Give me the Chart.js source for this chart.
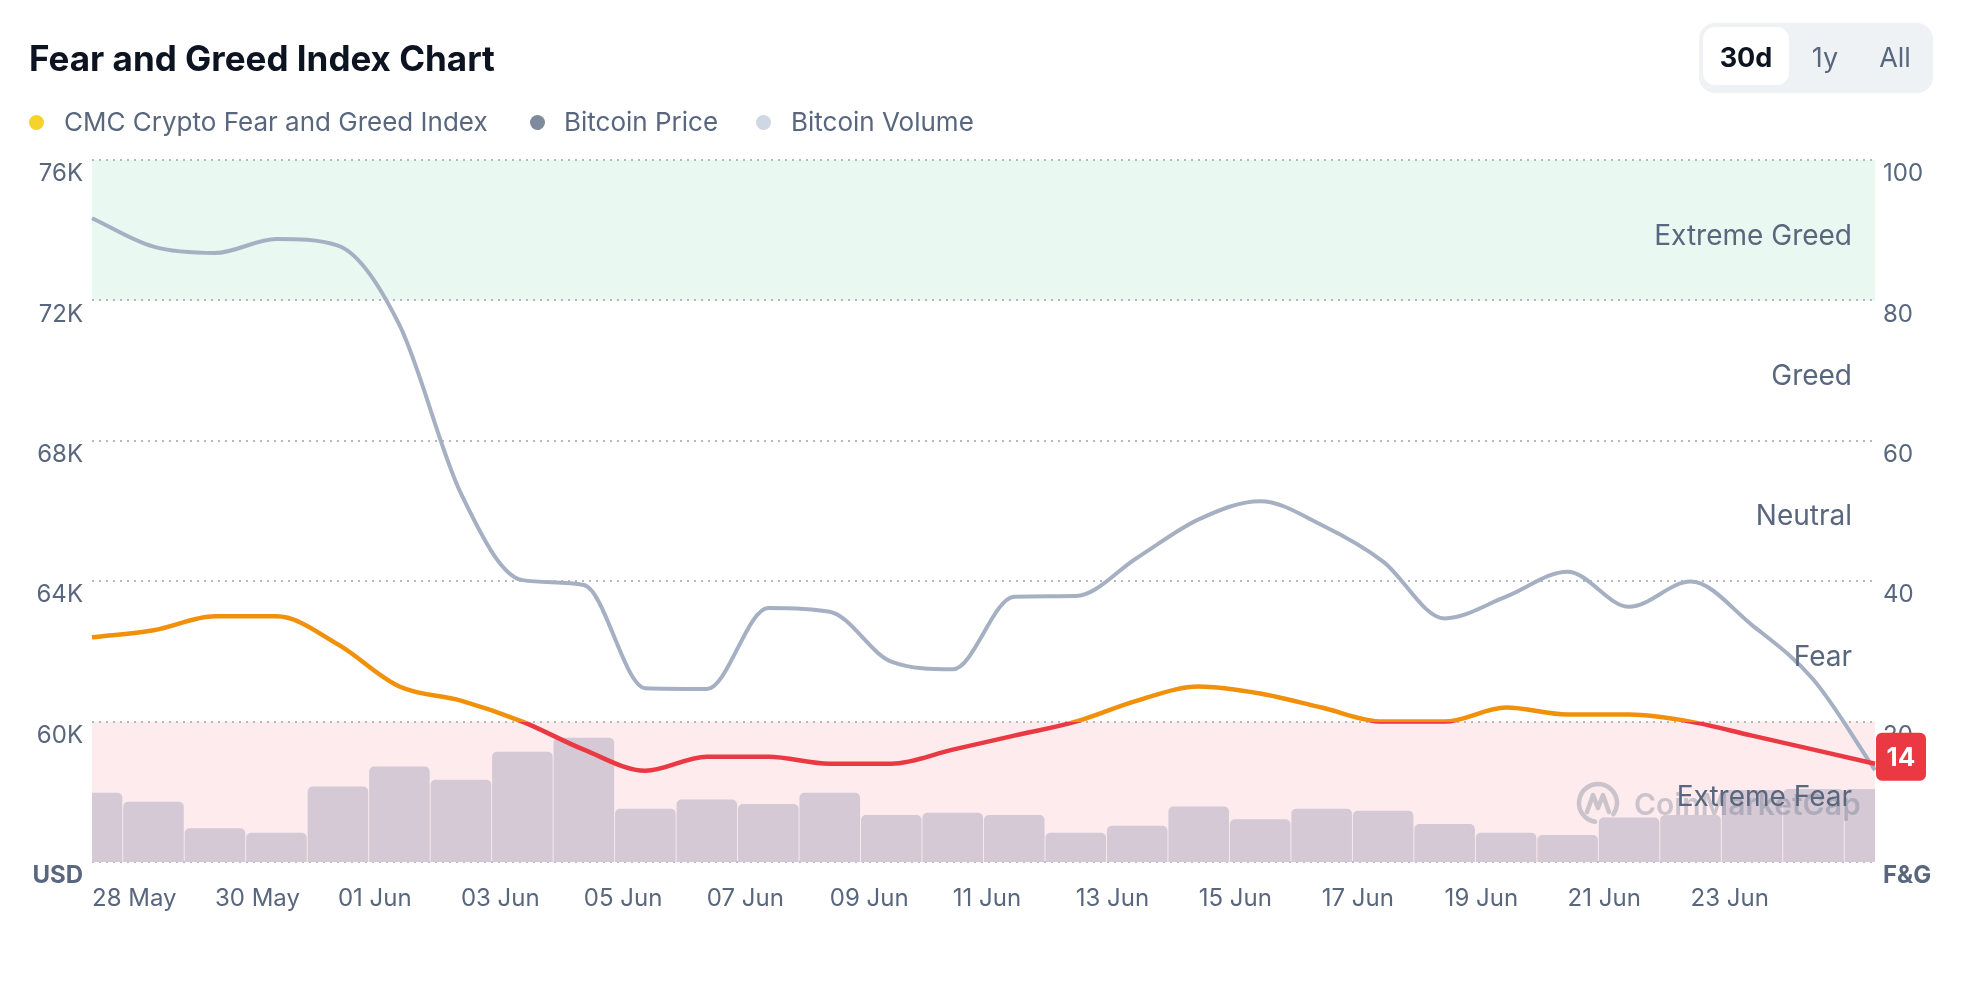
<!DOCTYPE html>
<html>
<head>
    <title>Fear and Greed Index Chart</title>
    <script src="https://cdn.jsdelivr.net/npm/chart.js"></script>
    <style>
        body { margin: 0; background: #fff; font-family: Inter, sans-serif; }
        #wrap { position: relative; width: 1972px; height: 1000px; overflow: hidden; }
        #fg-chart { position: absolute; left: 0; top: 0; }
        #title { position: absolute; left: 29px; top: 37px; font-size: 35px; font-weight: 700; color: #0D1421; line-height: 42px; }
        .leg { position: absolute; top: 106px; font-size: 26px; color: #58667E; line-height: 32px; white-space: nowrap; }
        .leg i { position: absolute; width: 15px; height: 15px; border-radius: 50%; top: 9px; }
        #tabs { position: absolute; left: 1699px; top: 23px; width: 234px; height: 70px; background: #EFF2F5; border-radius: 16px; }
        #tabs span { position: absolute; top: 6px; height: 58px; line-height: 58px; text-align: center; font-size: 27px; color: #58667E; }
        #tabs span.on { top: 4px; line-height: 62px; background: #fff; color: #0D1421; font-weight: 700; border-radius: 12px; }
    </style>
</head>
<body>
<div id="wrap">
    <canvas id="fg-chart" width="1972" height="1000"></canvas>
    <div id="title">Fear and Greed Index Chart</div>
    <div class="leg" style="left:64px"><i style="background:#F6D32B;left:-35px"></i>CMC Crypto Fear and Greed Index</div>
    <div class="leg" style="left:564px"><i style="background:#808A9D;left:-34px"></i>Bitcoin Price</div>
    <div class="leg" style="left:791px"><i style="background:#CFD6E4;left:-35px"></i>Bitcoin Volume</div>
    <div id="tabs">
        <span class="on" style="left:4px;width:86px">30d</span>
        <span style="left:105px;width:42px">1y</span>
        <span style="left:170px;width:52px">All</span>
    </div>
</div>

<script>
    // values
    const dates = ['28 May', '29 May', '30 May', '31 May', '01 Jun', '02 Jun', '03 Jun', '04 Jun', '05 Jun', '06 Jun',
        '07 Jun', '08 Jun', '09 Jun', '10 Jun', '11 Jun', '12 Jun', '13 Jun', '14 Jun', '15 Jun', '16 Jun',
        '17 Jun', '18 Jun', '19 Jun', '20 Jun', '21 Jun', '22 Jun', '23 Jun', '24 Jun', '25 Jun', '26 Jun'];

    const fearGreed = [32, 33, 35, 35, 31, 25, 23, 20, 16, 13,
        15, 15, 14, 14, 16, 18, 20, 23, 25, 24,
        22, 20, 20, 22, 21, 21, 20, 18, 16, 14];

    const btcPrice = [74340, 73530, 73350, 73750, 73560, 71300, 66500, 64030, 63890, 60950,
        60930, 63240, 63130, 61710, 61490, 63560, 63580, 64670, 65760, 66280,
        65600, 64560, 62940, 63560, 64270, 63270, 63990, 62750, 61190, 58620];

    // billions USD
    const btcVolume = [19.7, 17.2, 9.6, 8.3, 21.5, 27.2, 23.4, 31.4, 35.4, 15.2,
        17.8, 16.5, 19.7, 13.4, 14.0, 13.4, 8.3, 10.3, 15.8, 12.2,
        15.2, 14.6, 10.8, 8.3, 7.7, 12.7, 13.4, 20.5, 20.8, 20.8];

    const zoneNames = ['Extreme Fear', 'Fear', 'Neutral', 'Greed', 'Extreme Greed'];
    const zoneEdges = [0, 20, 40, 60, 80, 100];

    const slate = '#58667E';
    const orange = '#F0900B';
    const red = '#EA3943';

    // orange above 20, red below, split exactly at the 20 line
    function fgColor(context) {
        const chart = context.chart;
        const area = chart.chartArea;
        if (!area) return orange;
        const y20 = chart.scales.fg.getPixelForValue(20);
        const f = Math.min(Math.max((y20 - area.top) / (area.bottom - area.top), 0), 1);
        const g = chart.ctx.createLinearGradient(0, area.top, 0, area.bottom);
        g.addColorStop(0, orange);
        g.addColorStop(f, orange);
        g.addColorStop(f, red);
        g.addColorStop(1, red);
        return g;
    }

    const zones = {
        id: 'zones',
        beforeDraw(chart) {
            const { ctx, chartArea: a, scales } = chart;
            const fg = scales.fg;
            ctx.save();
            ctx.fillStyle = '#E9F8F1';
            ctx.fillRect(a.left, fg.getPixelForValue(100), a.right - a.left, fg.getPixelForValue(80) - fg.getPixelForValue(100));
            ctx.fillStyle = '#FDEBED';
            ctx.fillRect(a.left, fg.getPixelForValue(20), a.right - a.left, fg.getPixelForValue(0) - fg.getPixelForValue(20));
            ctx.restore();
        },
        afterDatasetsDraw(chart) {
            const { ctx, chartArea: a, scales } = chart;
            const fg = scales.fg;
            ctx.save();
            // watermark
            const wx = 1598, wy = 803;
            ctx.strokeStyle = 'rgba(88,102,126,0.3)';
            ctx.lineWidth = 4.5;
            ctx.lineCap = 'round';
            ctx.lineJoin = 'round';
            ctx.beginPath();
            ctx.arc(wx, wy, 19, Math.PI * 0.55, Math.PI * 2.2);
            ctx.stroke();
            ctx.beginPath();
            ctx.moveTo(wx - 11, wy + 9);
            ctx.lineTo(wx - 5, wy - 8);
            ctx.lineTo(wx, wy + 5);
            ctx.lineTo(wx + 5, wy - 8);
            ctx.lineTo(wx + 11, wy + 9);
            ctx.stroke();
            ctx.fillStyle = 'rgba(88,102,126,0.3)';
            ctx.font = '600 30px Inter';
            ctx.textAlign = 'left';
            ctx.textBaseline = 'middle';
            ctx.fillText('CoinMarketCap', 1634, 806);

            ctx.fillStyle = slate;
            ctx.font = '28px Inter';
            ctx.textAlign = 'right';
            zoneNames.forEach((name, i) => {
                const mid = (zoneEdges[i] + zoneEdges[i + 1]) / 2;
                ctx.fillText(name, a.right - 23, fg.getPixelForValue(mid) + 6);
            });
            ctx.restore();
        },
        afterDraw(chart) {
            const { ctx } = chart;
            const meta = chart.getDatasetMeta(0);
            const last = meta.data[meta.data.length - 1];
            const val = fearGreed[fearGreed.length - 1];
            const w = 50, h = 48;
            const x = last.x + 1, y = last.y - 7 - h / 2;
            ctx.save();
            ctx.fillStyle = red;
            ctx.beginPath();
            ctx.roundRect(x, y, w, h, 6);
            ctx.fill();
            ctx.fillStyle = '#fff';
            ctx.font = '700 26px Inter';
            ctx.textAlign = 'center';
            ctx.textBaseline = 'middle';
            ctx.fillText(String(val), x + w / 2, y + h / 2 + 1);
            ctx.restore();
        }
    };

    const tickFont = (bottomValue) => (c) => ({
        family: 'Inter',
        size: 24,
        weight: c.tick && c.tick.value === bottomValue ? '700' : '400'
    });

    new Chart(document.getElementById('fg-chart'), {
        type: 'line',
        data: {
            labels: dates,
            datasets: [{
                label: 'CMC Crypto Fear and Greed Index',
                data: fearGreed,
                yAxisID: 'fg',
                borderColor: fgColor,
                borderWidth: 4.5,
                pointRadius: 0,
                cubicInterpolationMode: 'monotone',
                order: 0
            }, {
                label: 'Bitcoin Price',
                data: btcPrice,
                yAxisID: 'usd',
                borderColor: '#A6B0C3',
                borderWidth: 4,
                pointRadius: 0,
                cubicInterpolationMode: 'monotone',
                order: 1
            }, {
                type: 'bar',
                label: 'Bitcoin Volume',
                data: btcVolume,
                yAxisID: 'vol',
                backgroundColor: '#D5C9D5',
                barPercentage: 0.985,
                categoryPercentage: 1,
                borderRadius: { topLeft: 5, topRight: 5 },
                borderSkipped: 'bottom',
                clip: 0,
                order: 2
            }]
        },
        options: {
            responsive: false,
            animation: false,
            layout: { padding: { top: 160 } },
            plugins: {
                legend: { display: false },
                tooltip: { enabled: false }
            },
            scales: {
                x: {
                    offset: false,
                    grid: { display: false },
                    border: { display: false },
                    afterFit: (s) => { s.height = 138; },
                    ticks: {
                        autoSkip: false,
                        maxRotation: 0,
                        align: 'start',
                        padding: 14,
                        color: slate,
                        font: { family: 'Inter', size: 24 },
                        callback: (v, i) => (i % 2 === 0 && i < 28) ? dates[i] : ''
                    }
                },
                usd: {
                    position: 'left',
                    min: 56000,
                    max: 76000,
                    afterFit: (s) => { s.width = 92; },
                    border: { display: false, dash: [2, 5] },
                    grid: { color: '#B4B9C1', lineWidth: 2, drawTicks: false },
                    ticks: {
                        stepSize: 4000,
                        padding: 9,
                        labelOffset: 14,
                        color: slate,
                        font: tickFont(56000),
                        callback: (v) => v === 56000 ? 'USD' : (v / 1000) + 'K'
                    }
                },
                fg: {
                    position: 'right',
                    min: 0,
                    max: 100,
                    afterFit: (s) => { s.width = 97; },
                    border: { display: false },
                    grid: { display: false, drawTicks: false },
                    ticks: {
                        stepSize: 20,
                        padding: 8,
                        labelOffset: 14,
                        color: slate,
                        font: tickFont(0),
                        callback: (v) => v === 0 ? 'F&G' : v
                    }
                },
                vol: {
                    display: false,
                    min: 0,
                    max: 200
                }
            }
        },
        plugins: [zones]
    });
</script>
</body>
</html>
